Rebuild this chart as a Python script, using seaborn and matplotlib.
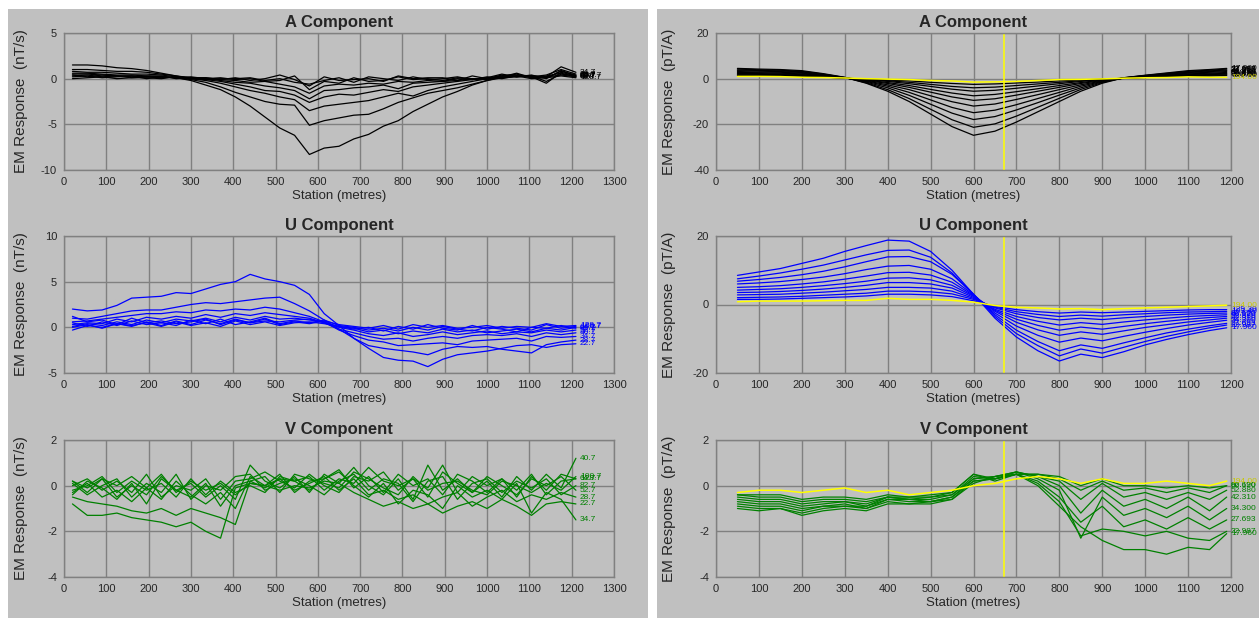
import matplotlib
matplotlib.use('Agg')
import matplotlib.pyplot as plt
from matplotlib.patches import Rectangle
import seaborn as sns
import numpy as np
import pandas as pd

sns.set_theme(style="white")
plt.rcParams['font.family'] = ['Liberation Sans', 'DejaVu Sans']
plt.rcParams['axes.unicode_minus'] = False

# ------------------------------------------------------------
# data
# ------------------------------------------------------------
# left column: dB/dt (nT/s), stations every 35 m
stations_left = np.arange(20, 1211, 35)
channels_left = ['22.7', '28.7', '34.7', '40.7', '52.7', '64.7', '82.7', '100.7', '128.7']

left_a = [
    [0.5, 0.5, 0.4, 0.3, 0.3, 0.2, 0.2, 0.1, -0.2, -0.7, -1.2, -2.0, -3.0, -4.2, -5.4, -6.2, -8.3, -7.6, -7.4, -6.6, -6.1, -5.2, -4.6, -3.6, -2.8, -2.0, -1.4, -0.7, -0.2, 0.1, 0.2, 0.3, 0.1, 0.8, 0.4],
    [0.6, 0.6, 0.5, 0.4, 0.4, 0.3, 0.2, 0.1, -0.1, -0.4, -0.9, -1.5, -2.0, -2.5, -2.8, -2.9, -5.1, -4.6, -4.3, -4.0, -3.9, -3.3, -2.6, -2.1, -1.6, -1.3, -1.0, -0.6, -0.2, 0.2, 0.3, 0.2, 0.4, 1.0, 0.5],
    [1.5, 1.5, 1.4, 1.2, 1.1, 0.9, 0.6, 0.3, 0.0, -0.2, -0.5, -0.9, -1.3, -1.6, -2.0, -2.3, -3.5, -3.0, -2.8, -2.6, -2.4, -2.0, -1.6, -1.9, -1.3, -0.9, -0.6, -0.3, 0.0, 0.3, 0.4, 0.3, 0.2, 1.3, 0.7],
    [1.0, 1.0, 0.9, 0.8, 0.8, 0.7, 0.5, 0.3, 0.1, -0.1, -0.3, -0.6, -0.9, -1.3, -1.4, -1.8, -2.6, -2.0, -1.7, -1.8, -1.5, -1.2, -1.4, -0.9, -0.7, -0.5, -0.3, -0.1, 0.1, 0.5, 0.2, 0.4, 0.0, 0.9, 0.3],
    [0.8, 0.7, 0.7, 0.6, 0.5, 0.5, 0.4, 0.2, 0.1, 0.0, -0.2, -0.4, -0.5, -0.8, -1.0, -1.3, -2.2, -1.3, -1.2, -1.0, -0.9, -0.7, -1.1, -0.5, -0.4, -0.3, -0.2, 0.0, 0.0, 0.3, 0.5, 0.1, 0.3, 0.6, 0.2],
    [0.3, 0.4, 0.2, 0.3, 0.1, 0.2, 0.1, 0.2, 0.0, 0.1, -0.1, -0.2, -0.4, -0.3, -0.6, -0.9, -1.6, -0.8, -0.6, -0.7, -0.5, -0.6, -0.3, -0.4, -0.2, -0.3, 0.0, -0.1, 0.2, 0.0, 0.3, 0.2, -0.5, 0.7, 0.3],
    [0.2, 0.3, 0.1, 0.2, 0.3, 0.0, 0.2, 0.1, 0.2, 0.0, 0.1, -0.1, 0.0, -0.3, -0.2, 0.3, -1.2, -0.3, -0.5, 0.1, -0.3, -0.2, 0.2, -0.1, 0.0, -0.2, 0.1, 0.0, -0.1, 0.2, 0.6, 0.1, 0.2, 0.4, 0.2],
    [0.4, 0.2, 0.4, 0.3, 0.2, 0.3, 0.3, 0.0, 0.1, 0.1, -0.1, 0.1, -0.2, 0.0, 0.4, -0.1, -0.8, 0.2, -0.2, -0.1, 0.0, -0.3, 0.3, 0.0, 0.1, 0.1, -0.2, 0.3, 0.0, 0.4, 0.2, 0.3, -0.3, 0.5, 0.3],
    [0.0, 0.1, 0.2, 0.0, 0.1, 0.1, 0.0, 0.2, 0.0, -0.1, 0.0, 0.0, 0.1, -0.2, 0.0, -0.4, -0.6, -0.2, 0.1, -0.4, 0.2, 0.0, -0.2, 0.2, -0.1, 0.0, 0.2, -0.1, 0.1, 0.1, 0.3, 0.0, 0.1, 0.3, 0.1],
]

left_u = [
    [2.0, 1.8, 1.9, 2.4, 3.2, 3.3, 3.4, 3.8, 3.7, 4.2, 4.7, 5.0, 5.8, 5.3, 5.0, 4.6, 3.6, 1.5, 0.2, -1.2, -2.3, -3.3, -3.6, -3.7, -4.3, -3.5, -3.0, -2.8, -2.6, -2.3, -2.0, -1.9, -2.2, -1.9, -1.8],
    [1.0, 0.9, 1.2, 1.5, 1.8, 1.9, 1.9, 2.2, 2.5, 2.7, 2.6, 2.8, 3.0, 3.2, 3.3, 2.6, 1.8, 0.8, -0.2, -1.2, -2.0, -2.3, -2.5, -2.7, -3.0, -2.4, -2.1, -2.2, -2.1, -2.4, -2.6, -2.8, -1.9, -1.6, -1.4],
    [0.6, 0.7, 0.9, 1.1, 1.3, 1.5, 1.5, 1.7, 1.6, 1.9, 1.8, 2.0, 1.9, 2.2, 2.0, 1.6, 1.2, 0.6, -0.3, -0.9, -1.4, -1.6, -2.0, -1.9, -1.8, -1.7, -1.9, -1.5, -1.4, -1.3, -1.2, -1.5, -1.0, -1.1, -1.0],
    [0.3, 0.5, 0.4, 0.9, 0.6, 1.1, 0.9, 1.2, 1.0, 1.4, 1.1, 1.5, 1.3, 1.6, 1.4, 1.2, 1.0, 0.5, -0.2, -0.6, -1.0, -1.3, -1.2, -1.5, -1.2, -1.0, -1.2, -0.9, -0.8, -0.9, -0.7, -1.0, -0.6, -0.8, -0.6],
    [0.1, 0.4, 0.2, 0.6, 0.3, 0.8, 0.5, 0.9, 0.7, 1.0, 0.6, 1.1, 0.8, 1.2, 0.9, 1.0, 0.8, 0.6, 0.0, -0.3, -0.7, -0.9, -0.6, -1.0, -0.8, -0.5, -0.8, -0.6, -0.4, -0.7, -0.5, -0.6, -0.3, -0.5, -0.3],
    [-0.3, 0.2, 0.0, 0.4, 0.1, 0.6, 0.2, 0.7, 0.3, 0.8, 0.4, 0.9, 0.5, 0.7, 0.6, 0.8, 0.9, 0.5, 0.1, -0.1, -0.5, -0.3, -0.7, -0.4, -0.6, -0.2, -0.5, -0.3, -0.6, -0.4, -0.2, -0.5, -0.1, -0.3, 0.0],
    [0.5, 0.1, 0.6, 0.2, 0.7, 0.3, 0.5, 0.2, 0.8, 0.4, 0.9, 0.3, 0.6, 1.0, 0.4, 0.7, 0.5, 0.8, 0.2, 0.0, -0.3, -0.1, -0.4, 0.0, -0.3, 0.1, -0.2, -0.4, 0.0, -0.2, -0.5, 0.0, -0.1, 0.2, -0.1],
    [0.0, 0.3, -0.1, 0.4, 0.2, 0.5, 0.1, 0.6, 0.2, 0.5, 0.1, 0.7, 0.3, 0.6, 0.2, 0.5, 0.6, 0.4, 0.1, -0.2, 0.0, -0.4, 0.1, -0.2, 0.3, -0.1, -0.3, 0.2, -0.2, 0.1, -0.1, -0.3, 0.3, -0.1, 0.1],
    [1.2, 0.6, 0.8, 0.3, 1.0, 0.5, 0.7, 0.4, 0.6, 0.9, 0.3, 0.8, 0.5, 0.9, 0.3, 0.6, 0.4, 0.7, 0.3, 0.1, -0.1, 0.2, -0.2, 0.3, 0.0, 0.2, -0.1, 0.0, 0.2, -0.1, 0.1, 0.0, 0.4, 0.1, 0.2],
]

left_v = [
    [-0.8, -1.3, -1.3, -1.2, -1.4, -1.5, -1.6, -1.8, -1.6, -2.0, -2.3, -0.1, 0.1, 0.0, -0.2, 0.0, -0.1, 0.2, 0.1, -0.3, -0.6, -0.9, -0.7, -1.0, -0.8, -1.2, -0.9, -0.7, -1.0, -0.6, -0.9, -1.3, -0.8, -0.7, -0.8],
    [-0.5, -0.7, -0.8, -0.9, -1.1, -1.2, -1.0, -1.3, -1.0, -1.2, -1.4, -1.7, 0.2, -0.1, 0.3, -0.2, 0.1, 0.4, -0.2, 0.3, -0.4, -0.2, -0.6, -0.4, -0.8, -0.5, -0.3, -0.9, -0.5, -0.2, -0.7, -0.4, -0.6, -0.3, -0.5],
    [-0.3, 0.1, -0.5, -0.2, -0.7, -0.1, -0.6, 0.2, -0.4, -0.8, -0.3, -1.0, 0.4, 0.0, 0.5, -0.3, 0.2, 0.3, 0.6, 0.0, -0.5, 0.1, -0.8, -0.2, -0.4, -1.0, 0.0, -0.5, -0.2, -0.6, 0.1, -1.2, -0.3, -0.6, -1.5],
    [0.2, -0.3, 0.3, -0.5, 0.0, -0.4, 0.4, -0.2, 0.1, -0.5, 0.0, -0.6, 0.9, 0.2, -0.1, 0.4, -0.3, 0.5, 0.1, 0.8, 0.0, -0.4, 0.3, -0.6, 0.9, -0.2, 0.3, -0.3, 0.2, -0.5, 0.4, -0.2, 0.5, -0.1, 1.2],
    [0.0, 0.3, -0.2, 0.2, -0.3, 0.5, -0.5, 0.0, -0.2, 0.3, -0.6, 0.2, 0.3, 0.6, 0.2, -0.1, 0.5, 0.0, -0.3, 0.4, 0.2, 0.6, -0.2, 0.3, -0.5, 0.6, 0.1, -0.3, 0.4, 0.0, -0.4, 0.3, 0.0, 0.4, -0.2],
    [-0.2, 0.0, 0.4, -0.3, 0.2, -0.2, 0.1, -0.5, 0.3, -0.4, 0.2, -0.3, 0.0, -0.3, 0.4, 0.2, -0.2, 0.3, 0.7, -0.1, 0.4, -0.3, 0.5, 0.0, 0.3, -0.4, 0.5, 0.2, -0.3, 0.3, -0.2, 0.5, -0.4, 0.2, 0.3],
    [0.1, -0.4, 0.0, 0.3, -0.5, 0.1, -0.3, 0.5, -0.6, 0.0, -0.2, 0.4, 0.5, -0.2, 0.1, 0.3, 0.0, -0.4, 0.2, 0.5, -0.2, 0.3, 0.1, -0.7, 0.2, 0.4, -0.6, 0.1, 0.3, -0.3, 0.2, -0.1, 0.3, -0.4, 0.0],
    [-0.4, 0.2, -0.1, -0.6, 0.1, -0.8, 0.3, -0.2, -0.5, 0.1, -0.9, 0.0, 0.2, 0.4, -0.3, 0.5, 0.3, 0.1, -0.1, 0.6, 0.3, -0.1, -0.4, 0.4, -0.2, 0.1, 0.2, -0.2, -0.4, 0.2, 0.0, -0.3, 0.1, -0.2, 0.4],
    [0.2, -0.1, 0.3, 0.0, 0.4, -0.1, 0.5, -0.3, 0.2, -0.2, 0.1, -0.4, 0.1, 0.0, 0.3, 0.2, 0.4, -0.2, 0.3, 0.1, 0.8, 0.2, 0.0, 0.3, -0.1, 0.9, -0.3, 0.4, 0.0, 0.3, -0.5, 0.4, -0.2, 0.5, 0.3],
]

# right column: B-field (pT/A), stations every 50 m
stations_right = [50, 100, 150, 200, 250, 300, 350, 400, 450, 500, 550, 600,
                  650, 700, 750, 800, 850, 900, 950, 1000, 1050, 1100, 1150, 1190]
channels_right = ['17.960', '22.987', '27.693', '34.300', '42.310',
                  '52.880', '66.120', '82.690', '103.40', '129.30']
late_channel = '194.00'
cursor_station = 670

right_a = [
    [4.5, 4.2, 4.0, 3.5, 2.2, 0.6, -2.0, -5.5, -10.0, -15.5, -21.0, -24.8, -23.0, -19.0, -14.5, -10.0, -5.5, -2.0, 0.4, 1.5, 2.5, 3.5, 4.0, 4.5],
    [4.2, 3.9, 3.7, 3.2, 2.0, 0.5, -1.8, -4.8, -8.7, -13.4, -18.0, -21.3, -19.8, -16.4, -12.5, -8.6, -4.7, -1.7, 0.4, 1.4, 2.3, 3.2, 3.7, 4.2],
    [3.8, 3.6, 3.4, 3.0, 1.8, 0.5, -1.5, -4.0, -7.3, -11.2, -15.1, -17.9, -16.6, -13.7, -10.5, -7.2, -4.0, -1.4, 0.3, 1.3, 2.1, 2.9, 3.4, 3.8],
    [3.5, 3.3, 3.1, 2.7, 1.6, 0.4, -1.2, -3.3, -6.0, -9.3, -12.6, -14.9, -13.8, -11.4, -8.7, -6.0, -3.3, -1.2, 0.3, 1.2, 1.9, 2.7, 3.1, 3.5],
    [3.1, 2.9, 2.8, 2.4, 1.5, 0.4, -1.0, -2.7, -4.8, -7.5, -10.1, -12.0, -11.1, -9.1, -7.0, -4.8, -2.7, -1.0, 0.2, 1.0, 1.7, 2.4, 2.8, 3.1],
    [2.7, 2.6, 2.4, 2.1, 1.3, 0.3, -0.8, -2.1, -3.8, -5.9, -8.0, -9.5, -8.8, -7.2, -5.5, -3.8, -2.1, -0.8, 0.2, 0.9, 1.5, 2.1, 2.4, 2.7],
    [2.3, 2.2, 2.1, 1.8, 1.1, 0.3, -0.6, -1.7, -3.0, -4.7, -6.3, -7.5, -6.9, -5.7, -4.4, -3.0, -1.7, -0.6, 0.2, 0.8, 1.3, 1.8, 2.1, 2.3],
    [2.0, 1.9, 1.8, 1.6, 1.0, 0.3, -0.5, -1.2, -2.2, -3.4, -4.6, -5.5, -5.1, -4.2, -3.2, -2.2, -1.2, -0.4, 0.2, 0.7, 1.1, 1.6, 1.8, 2.0],
    [1.7, 1.6, 1.5, 1.3, 0.8, 0.2, -0.3, -0.9, -1.6, -2.5, -3.4, -4.0, -3.7, -3.0, -2.3, -1.6, -0.9, -0.3, 0.2, 0.6, 1.0, 1.3, 1.5, 1.7],
    [1.4, 1.3, 1.2, 1.1, 0.7, 0.2, -0.2, -0.6, -1.0, -1.6, -2.1, -2.5, -2.3, -1.9, -1.5, -1.0, -0.6, -0.2, 0.1, 0.5, 0.8, 1.1, 1.2, 1.4],
]
right_a_late = [1.0, 1.0, 0.9, 0.6, 0.5, 0.3, 0.0, -0.2, -0.4, -0.8, -1.0, -1.5, -1.4, -1.2, -0.8, -0.4, -0.3, -0.1, 0.2, 0.4, 0.5, 0.8, 0.6, 0.6]

right_u = [
    [8.5, 9.5, 10.5, 12.0, 13.5, 15.5, 17.2, 18.8, 18.5, 15.5, 10.0, 3.0, -4.0, -9.5, -13.5, -16.5, -14.5, -15.5, -13.8, -11.8, -10.2, -8.8, -7.6, -6.8],
    [7.5, 8.3, 9.2, 10.3, 11.5, 13.0, 14.5, 15.8, 15.9, 13.8, 9.2, 3.0, -3.5, -8.5, -12.0, -15.0, -13.0, -14.2, -12.5, -10.8, -9.3, -8.0, -6.8, -6.0],
    [6.8, 7.3, 7.9, 8.7, 9.7, 11.0, 12.5, 13.9, 14.0, 12.5, 8.8, 3.0, -3.0, -7.5, -10.8, -13.5, -11.8, -12.8, -11.2, -9.7, -8.3, -7.2, -6.2, -5.5],
    [6.0, 6.3, 6.7, 7.3, 8.0, 9.0, 10.2, 11.2, 11.4, 10.3, 7.5, 2.8, -2.5, -6.3, -9.0, -11.0, -9.8, -10.6, -9.3, -8.1, -7.0, -6.0, -5.2, -4.6],
    [5.0, 5.2, 5.5, 6.0, 6.6, 7.4, 8.3, 9.3, 9.4, 8.6, 6.5, 2.6, -2.0, -5.2, -7.4, -9.0, -8.0, -8.7, -7.7, -6.7, -5.9, -5.1, -4.5, -4.0],
    [4.2, 4.4, 4.6, 5.0, 5.5, 6.1, 6.8, 7.7, 7.8, 7.2, 5.6, 2.4, -1.7, -4.3, -6.1, -7.5, -6.6, -7.2, -6.4, -5.6, -4.9, -4.3, -3.8, -3.5],
    [3.5, 3.6, 3.8, 4.1, 4.5, 5.0, 5.6, 6.4, 6.4, 6.0, 4.8, 2.1, -1.4, -3.5, -4.9, -6.0, -5.3, -5.8, -5.1, -4.5, -4.0, -3.5, -3.2, -3.0],
    [2.8, 2.9, 3.0, 3.3, 3.6, 4.0, 4.4, 5.0, 5.0, 4.8, 3.9, 1.8, -1.0, -2.7, -3.8, -4.5, -4.0, -4.4, -3.9, -3.5, -3.1, -2.8, -2.6, -2.5],
    [2.0, 2.1, 2.2, 2.4, 2.7, 3.0, 3.3, 3.9, 3.9, 3.7, 3.1, 1.5, -0.8, -2.1, -2.9, -3.5, -3.1, -3.4, -3.0, -2.7, -2.4, -2.2, -2.1, -2.0],
    [1.5, 1.5, 1.6, 1.8, 2.0, 2.2, 2.5, 3.0, 3.0, 2.8, 2.3, 1.1, -0.6, -1.5, -2.1, -2.5, -2.2, -2.4, -2.2, -2.0, -1.8, -1.6, -1.5, -1.5],
]
right_u_late = [0.8, 1.0, 1.0, 1.0, 1.1, 1.2, 1.2, 1.8, 1.5, 1.5, 1.2, 0.7, -0.3, -0.8, -1.0, -1.3, -1.2, -1.5, -1.2, -1.0, -0.8, -0.6, -0.4, -0.2]

right_v = [
    [-1.0, -1.1, -1.0, -1.3, -1.1, -1.0, -1.1, -0.8, -0.8, -0.8, -0.6, 0.2, 0.3, 0.5, 0.0, -0.9, -1.8, -2.4, -2.8, -2.8, -3.0, -2.7, -2.8, -2.1],
    [-0.9, -1.0, -1.0, -1.2, -1.0, -0.9, -1.0, -0.7, -0.8, -0.7, -0.6, 0.1, 0.4, 0.5, 0.1, -0.7, -2.2, -1.9, -2.0, -2.2, -2.0, -2.3, -2.4, -2.0],
    [-0.8, -0.9, -0.9, -1.1, -0.9, -0.9, -0.9, -0.6, -0.7, -0.7, -0.5, 0.2, 0.3, 0.5, 0.2, -0.5, -1.6, -0.9, -1.8, -1.5, -1.9, -1.4, -1.9, -1.5],
    [-0.7, -0.8, -0.8, -1.0, -0.9, -0.8, -1.0, -0.6, -0.6, -0.7, -0.5, 0.3, 0.4, 0.6, 0.3, -0.2, -2.3, -0.5, -1.3, -1.0, -1.4, -0.9, -1.5, -1.0],
    [-0.6, -0.7, -0.7, -0.9, -0.8, -0.7, -0.9, -0.5, -0.6, -0.6, -0.4, 0.3, 0.4, 0.6, 0.4, 0.0, -1.2, -0.2, -0.9, -0.6, -1.0, -0.5, -1.1, -0.5],
    [-0.5, -0.6, -0.6, -0.8, -0.7, -0.7, -0.8, -0.5, -0.6, -0.5, -0.4, 0.4, 0.3, 0.6, 0.4, 0.2, -0.6, 0.1, -0.5, -0.3, -0.6, -0.3, -0.6, -0.2],
    [-0.4, -0.5, -0.5, -0.7, -0.6, -0.6, -0.7, -0.5, -0.5, -0.5, -0.3, 0.5, 0.3, 0.5, 0.5, 0.3, -0.2, 0.2, -0.2, -0.1, -0.3, -0.1, -0.3, 0.0],
    [-0.4, -0.4, -0.4, -0.6, -0.5, -0.5, -0.6, -0.4, -0.5, -0.4, -0.3, 0.5, 0.2, 0.5, 0.5, 0.4, 0.0, 0.3, 0.0, 0.0, -0.1, 0.0, -0.1, 0.0],
]
right_v_late = [-0.3, -0.2, -0.2, -0.3, -0.2, -0.1, -0.3, -0.2, -0.4, -0.3, -0.2, 0.0, 0.1, 0.3, 0.4, 0.3, 0.1, 0.3, 0.1, 0.1, 0.2, 0.1, 0.0, 0.2]

# ------------------------------------------------------------
# drawing
# ------------------------------------------------------------
PANEL_GREY = '#c0c0c0'
GRID_GREY = '#808080'


def to_long(stations, rows, names):
    frames = []
    for name, vals in zip(names, rows):
        frames.append(pd.DataFrame({'station': stations, 'value': vals, 'channel': name}))
    return pd.concat(frames, ignore_index=True)


def draw_panel(ax, stations, rows, names, color, xmax, ylim, yticks, title, unit, late=None):
    df = to_long(stations, rows, names)
    sns.lineplot(data=df, x='station', y='value', units='channel', estimator=None,
                 color=color, linewidth=0.9, sort=False, ax=ax)
    # channel labels at the end of each curve (overlapping, as in the original)
    for name, vals in zip(names, rows):
        ax.annotate(name, xy=(stations[-1], vals[-1]), xytext=(3, 0), textcoords='offset points',
                    fontsize=6, color=color, va='center', annotation_clip=False)
    if late is not None:
        sns.lineplot(x=stations, y=late, color='#ffff00', linewidth=1.1, ax=ax)
        ax.axvline(cursor_station, color='#ffff00', linewidth=1.1)
        ax.annotate(late_channel, xy=(stations[-1], late[-1]), xytext=(3, 0), textcoords='offset points',
                    fontsize=6, color='#c8c800', va='center', annotation_clip=False)

    ax.set_facecolor('none')
    ax.set_xlim(0, xmax)
    ax.set_ylim(*ylim)
    ax.set_xticks(range(0, xmax + 1, 100))
    ax.set_yticks(yticks)
    ax.grid(True, color=GRID_GREY, linewidth=1)
    for sp in ax.spines.values():
        sp.set_color(GRID_GREY)
        sp.set_linewidth(1)
    ax.tick_params(axis='both', labelsize=8, length=3, color=GRID_GREY, pad=2, direction='out')
    ax.set_title(title, fontsize=12, fontweight='bold', pad=4)
    ax.set_xlabel('Station (metres)', fontsize=9.5, labelpad=2)
    ax.set_ylabel('EM Response  (' + unit + ')', fontsize=11)


fig = plt.figure(figsize=(12.59, 6.18), dpi=100)
fig.patch.set_facecolor('white')
fig.add_artist(Rectangle((8 / 1259, 0), 640 / 1259, 1 - 9 / 618, transform=fig.transFigure,
                         facecolor=PANEL_GREY, edgecolor='none', zorder=-2))
fig.add_artist(Rectangle((657 / 1259, 0), 602 / 1259, 1 - 9 / 618, transform=fig.transFigure,
                         facecolor=PANEL_GREY, edgecolor='none', zorder=-2))

row_bottoms = [1 - 170 / 618, 1 - 373 / 618, 1 - 577 / 618]
row_h = 137 / 618
left_x, left_w = 64 / 1259, 550 / 1259
right_x, right_w = 716 / 1259, 515 / 1259

ax1 = fig.add_axes([left_x, row_bottoms[0], left_w, row_h])
ax2 = fig.add_axes([left_x, row_bottoms[1], left_w, row_h])
ax3 = fig.add_axes([left_x, row_bottoms[2], left_w, row_h])
ax4 = fig.add_axes([right_x, row_bottoms[0], right_w, row_h])
ax5 = fig.add_axes([right_x, row_bottoms[1], right_w, row_h])
ax6 = fig.add_axes([right_x, row_bottoms[2], right_w, row_h])

draw_panel(ax1, stations_left, left_a, channels_left, 'black', 1300, (-10, 5), [-10, -5, 0, 5], 'A Component', 'nT/s')
draw_panel(ax2, stations_left, left_u, channels_left, '#0000ff', 1300, (-5, 10), [-5, 0, 5, 10], 'U Component', 'nT/s')
draw_panel(ax3, stations_left, left_v, channels_left, '#008000', 1300, (-4, 2), [-4, -2, 0, 2], 'V Component', 'nT/s')
draw_panel(ax4, stations_right, right_a, channels_right, 'black', 1200, (-40, 20), [-40, -20, 0, 20], 'A Component', 'pT/A', late=right_a_late)
draw_panel(ax5, stations_right, right_u, channels_right, '#0000ff', 1200, (-20, 20), [-20, 0, 20], 'U Component', 'pT/A', late=right_u_late)
draw_panel(ax6, stations_right, right_v, channels_right[:8], '#008000', 1200, (-4, 2), [-4, -2, 0, 2], 'V Component', 'pT/A', late=right_v_late)

for ax in (ax1, ax2, ax3):
    ax.yaxis.set_label_coords(-0.065, 0.5)
for ax in (ax4, ax5, ax6):
    ax.yaxis.set_label_coords(-0.078, 0.5)

fig.savefig('out.png', dpi=100)
plt.close()
